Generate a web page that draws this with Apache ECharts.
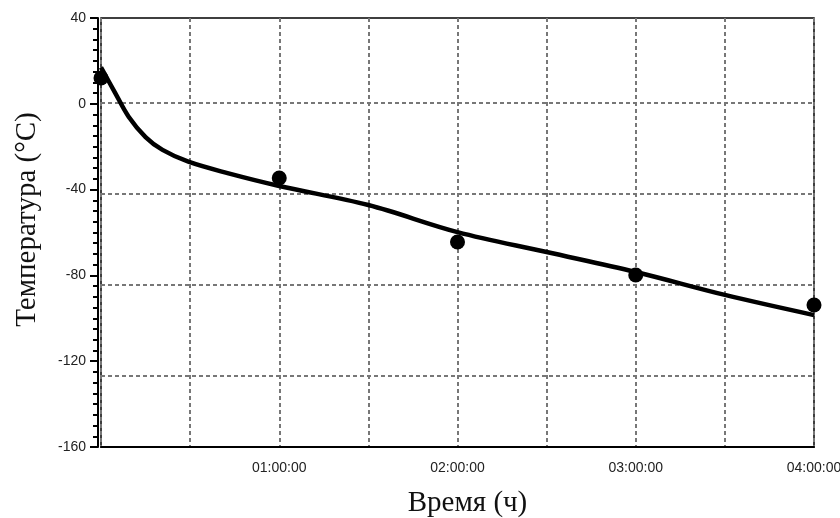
<!DOCTYPE html>
<html>
<head>
<meta charset="utf-8">
<script src="https://cdn.jsdelivr.net/npm/echarts@6/dist/echarts.min.js"></script>
<style>
  html, body { margin: 0; padding: 0; background: #fff; }
  #chart { width: 840px; height: 518px; }
</style>
</head>
<body>
<div id="chart"></div>
<script>
// расчётная кривая (часы, °C)
const curveHours = [0, 0.08, 0.155, 0.25, 0.345, 0.49, 0.71, 1.0, 1.5, 2.0, 2.5, 3.0, 3.5, 4.0];
const curveTemps = [17, 5, -6, -15.5, -21.5, -27, -32.3, -38.3, -47.2, -59.8, -69.1, -78.4, -89.1, -98.5];

// измеренные точки
const pointHours = [0, 1, 2, 3, 4];
const pointTemps = [12, -34.6, -64.4, -79.8, -93.8];

// подписи оси Y и линии сетки (сетка в исходнике смещена относительно подписей)
const yTicks = [-160, -120, -80, -40, 0, 40];
const gridLevels = [0, -40, -80, -120];

const pad = (n) => (n < 10 ? "0" + n : "" + n);

const chart = echarts.init(document.getElementById("chart"));

const option = {
  backgroundColor: "#fff",
  animation: false,
  grid: {
    left: 101,
    right: 26,
    top: 18,
    bottom: 71,
    outerBoundsMode: "none",
    containLabel: false,
    show: true,
    borderColor: "#000",
    borderWidth: 1.5
  },
  xAxis: {
    type: "value",
    min: 0,
    max: 4,
    interval: 0.5,
    name: "Время (ч)",
    nameLocation: "middle",
    nameGap: 42,
    nameTextStyle: {
      fontFamily: "Liberation Serif",
      fontSize: 29,
      color: "#111",
      padding: [0, 0, 0, 20]
    },
    axisLine: { show: true, onZero: false, lineStyle: { color: "#000", width: 2 } },
    axisTick: { show: false },
    axisLabel: {
      margin: 14,
      fontFamily: "Liberation Sans",
      fontSize: 14,
      color: "#222",
      formatter: (v) => (v > 0 && Number.isInteger(v) ? pad(v) + ":00:00" : "")
    },
    splitLine: {
      show: true,
      lineStyle: { color: "#777", width: 2, type: [4, 3] }
    }
  },
  yAxis: [
    {
      type: "value",
      min: yTicks[0],
      max: yTicks[yTicks.length - 1],
      interval: 40,
      offset: 3,
      name: "Температура (°C)",
      nameLocation: "middle",
      nameGap: 56,
      nameTextStyle: {
        fontFamily: "Liberation Serif",
        fontSize: 29,
        color: "#111",
        padding: [0, 0, 0, 26]
      },
      axisLine: { show: true, onZero: false, lineStyle: { color: "#000", width: 2 } },
      axisTick: { show: true, inside: false, length: 8, lineStyle: { color: "#000", width: 2 } },
      minorTick: { show: true, splitNumber: 8, length: 5, lineStyle: { color: "#000", width: 2 } },
      axisLabel: {
        margin: 12,
        fontFamily: "Liberation Sans",
        fontSize: 14,
        color: "#222"
      },
      splitLine: { show: false }
    },
    {
      // только линии сетки
      type: "value",
      min: -151.2,
      max: 37.4,
      position: "left",
      axisLine: { show: false },
      axisTick: { show: false, customValues: gridLevels },
      axisLabel: { show: false },
      splitLine: {
        show: true,
        lineStyle: { color: "#777", width: 2, type: [4, 3] }
      }
    }
  ],
  series: [
    {
      name: "curve",
      type: "line",
      yAxisIndex: 0,
      smooth: 0.35,
      showSymbol: false,
      lineStyle: { color: "#000", width: 4.5 },
      data: curveHours.map((h, i) => [h, curveTemps[i]]),
      z: 3
    },
    {
      name: "points",
      type: "scatter",
      yAxisIndex: 0,
      symbol: "circle",
      symbolSize: 15,
      itemStyle: { color: "#000", opacity: 1 },
      data: pointHours.map((h, i) => [h, pointTemps[i]]),
      z: 4
    }
  ]
};

chart.setOption(option);
</script>
</body>
</html>
